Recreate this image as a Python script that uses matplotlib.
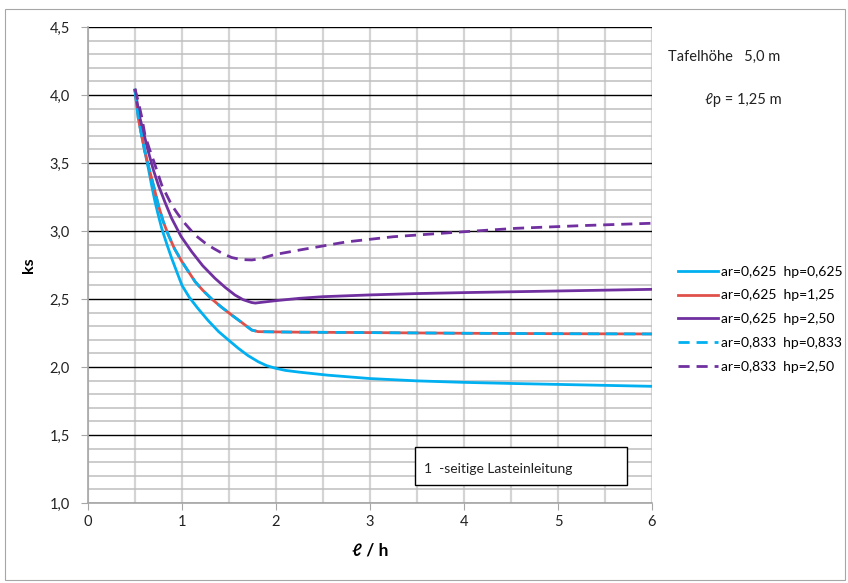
import matplotlib
matplotlib.use("Agg")
import matplotlib.pyplot as plt
from matplotlib.patches import Rectangle
from matplotlib.ticker import MultipleLocator, FuncFormatter

plt.rcParams['font.family'] = ['Lato', 'DejaVu Sans']

# ---- data ----
x_c625 = [0.5, 0.535, 0.571, 0.606, 0.642, 0.677, 0.713, 0.75, 0.784, 0.84, 0.89, 0.95, 1.0, 1.08, 1.17, 1.28, 1.39, 1.5, 1.6,
          1.7, 1.81, 1.9, 2.0, 2.1, 2.25, 2.55, 3.0, 3.5, 4.0, 4.5, 5.0, 5.5, 6.0]
y_c625 = [4.037, 3.86, 3.706, 3.58, 3.461, 3.335, 3.215, 3.11, 3.02, 2.9, 2.80, 2.69, 2.60, 2.51, 2.43, 2.34, 2.26, 2.195, 2.137,
          2.085, 2.039, 2.01, 1.99, 1.975, 1.962, 1.94, 1.915, 1.898, 1.887, 1.879, 1.872, 1.865, 1.858]

x_r125 = [0.5, 0.535, 0.571, 0.606, 0.642, 0.677, 0.713, 0.748, 0.80, 0.855, 0.92, 1.0, 1.07, 1.14, 1.22, 1.316, 1.42, 1.529,
          1.64, 1.741, 1.81, 1.9, 2.0, 2.25, 3.0, 4.0, 5.0, 6.0]
y_r125 = [4.035, 3.829, 3.70, 3.583, 3.48, 3.387, 3.29, 3.191, 3.07, 2.971, 2.87, 2.774, 2.70, 2.627, 2.565, 2.50, 2.44, 2.382,
          2.325, 2.272, 2.26, 2.259, 2.258, 2.256, 2.253, 2.248, 2.245, 2.243]

x_p250 = [0.5, 0.553, 0.60, 0.642, 0.695, 0.748, 0.82, 0.89, 0.99, 1.103, 1.22, 1.351, 1.46, 1.564, 1.65, 1.741, 1.78, 1.85,
          2.0, 2.25, 2.5, 3.0, 3.5, 4.0, 4.5, 5.0, 5.5, 6.0]
y_p250 = [4.035, 3.829, 3.70, 3.583, 3.45, 3.338, 3.21, 3.093, 2.96, 2.848, 2.745, 2.652, 2.585, 2.529, 2.495, 2.474, 2.47,
          2.476, 2.488, 2.505, 2.517, 2.53, 2.54, 2.547, 2.553, 2.559, 2.565, 2.571]

x_c833 = x_r125
y_c833 = y_r125

x_pd250 = [0.5, 0.535, 0.571, 0.606, 0.65, 0.695, 0.74, 0.784, 0.84, 0.89, 0.95, 1.014, 1.138, 1.24, 1.333, 1.43, 1.529, 1.63,
           1.741, 1.83, 1.97, 2.06, 2.29, 2.75, 3.25, 3.9, 4.56, 5.27, 6.0]
y_pd250 = [4.045, 3.95, 3.84, 3.706, 3.61, 3.522, 3.43, 3.338, 3.26, 3.191, 3.13, 3.069, 2.971, 2.915, 2.873, 2.835, 2.805, 2.79,
           2.787, 2.795, 2.824, 2.836, 2.865, 2.92, 2.958, 2.99, 3.02, 3.04, 3.057]

labels = ["ar=0,625  hp=0,625", "ar=0,625  hp=1,25", "ar=0,625  hp=2,50",
          "ar=0,833  hp=0,833", "ar=0,833  hp=2,50"]

CYAN = '#00B0F0'
RED = '#E0504A'
PURPLE = '#7030A0'

W, H = 848, 583
fig = plt.figure(figsize=(W / 100, H / 100), dpi=100)
fig.patches.append(Rectangle((5 / W, 1 - 580 / H), 840 / W, 571 / H, transform=fig.transFigure,
                             fill=False, edgecolor='#A6A6A6', lw=0.8))

ax = fig.add_axes([88 / W, 1 - 503 / H, (652 - 88) / W, (503 - 27) / H])
ax.set_xlim(0, 6)
ax.set_ylim(1.0, 4.5)

ax.xaxis.set_major_locator(MultipleLocator(1))
ax.xaxis.set_minor_locator(MultipleLocator(0.5))
ax.yaxis.set_major_locator(MultipleLocator(0.5))
ax.yaxis.set_minor_locator(MultipleLocator(0.1))
ax.yaxis.set_major_formatter(FuncFormatter(lambda v, p: f"{v:.1f}".replace('.', ',')))

ax.grid(axis='x', which='both', color='#D4D4D4', lw=1.6)
ax.grid(axis='y', which='minor', color='#BFBFBF', lw=1.1)
ax.grid(axis='y', which='major', color='#000000', lw=1.0)
ax.set_axisbelow(True)

for s in ['top', 'right']:
    ax.spines[s].set_visible(False)
ax.spines['left'].set_color('#A6A6A6')
ax.spines['bottom'].set_color('#A6A6A6')
ax.spines['left'].set_linewidth(1.2)
ax.spines['bottom'].set_linewidth(1.2)
ax.tick_params(which='major', direction='out', length=5, color='#A6A6A6', labelsize=10.5, labelcolor='#222222')
ax.tick_params(axis='x', which='minor', direction='out', length=0)
ax.tick_params(axis='y', which='minor', length=0)
ax.tick_params(axis='y', pad=8)

lw = 2.0
kw = dict(solid_joinstyle='round', dash_joinstyle='round')
l1, = ax.plot(x_c625, y_c625, color=CYAN, lw=lw, label=labels[0], **kw)
l2, = ax.plot(x_r125, y_r125, color=RED, lw=lw, label=labels[1], **kw)
l3, = ax.plot(x_p250, y_p250, color=PURPLE, lw=lw, label=labels[2], **kw)
l4, = ax.plot(x_c833, y_c833, color=CYAN, lw=lw, ls=(0, (4, 2.5)), label=labels[3], **kw)
l5, = ax.plot(x_pd250, y_pd250, color=PURPLE, lw=lw, ls=(0, (4, 2.5)), label=labels[4], **kw)

ax.set_ylabel('ks', fontsize=11.5, fontweight='bold', labelpad=10)
ax.set_xlabel('ℓ / h', fontsize=12.5, fontweight='bold', labelpad=10)

fig.legend(handles=[l1, l2, l3, l4, l5], loc='upper left', bbox_to_anchor=(672 / W, 1 - 260 / H),
           frameon=False, fontsize=10, handlelength=2.9, handletextpad=0.25, labelspacing=0.85,
           borderaxespad=0)

fig.text(668 / W, 1 - 57 / H, 'Tafelhöhe   5,0 m', fontsize=10.5, va='center', ha='left', color='#222222')
fig.text(705 / W, 1 - 100 / H, 'ℓp = 1,25 m', fontsize=10.5, va='center', ha='left', color='#222222')

fig.patches.append(Rectangle((415 / W, 1 - 485 / H), (627 - 415) / W, (485 - 447) / H,
                             transform=fig.transFigure, facecolor='white', edgecolor='black', lw=1.0, zorder=5))
fig.text(424 / W, 1 - 469 / H, '1  -seitige Lasteinleitung', fontsize=10, va='center', ha='left',
         color='#222222', zorder=6)

fig.savefig('out.png', dpi=100)
